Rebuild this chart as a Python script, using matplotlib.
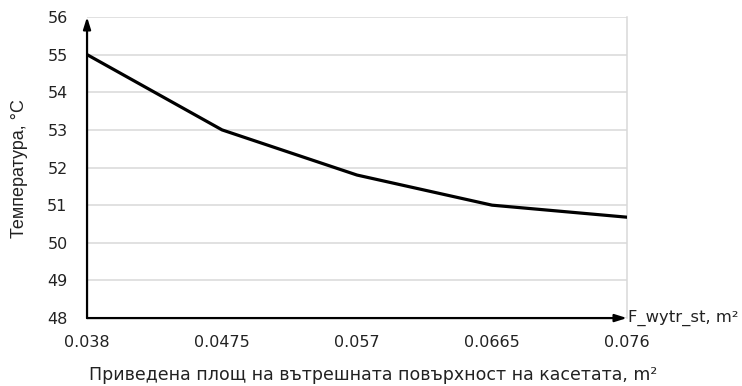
import matplotlib

matplotlib.use("Agg")
import matplotlib.pyplot as plt

# площ и температура
area = [0.038, 0.0475, 0.057, 0.0665, 0.076]
temperature = [55.0, 53.0, 51.8, 51.0, 50.68]
y_ticks = [48, 49, 50, 51, 52, 53, 54, 55, 56]

plt.rcParams["font.family"] = ["DejaVu Sans"]

fig = plt.figure(figsize=(7.42, 3.86), dpi=100)
ax = fig.add_axes([0.1173, 0.176, 0.845 - 0.1173, 0.956 - 0.176])

ax.plot(area, temperature, color="black", lw=2.3, solid_capstyle="round", zorder=3)

ax.set_xlim(area[0], area[-1])
ax.set_ylim(y_ticks[0], y_ticks[-1])
ax.set_xticks(area)
ax.set_xticklabels([f"{v:g}" for v in area])
ax.set_yticks(y_ticks)

ax.grid(axis="y", color="#d9d9d9", lw=1.1)
ax.set_axisbelow(True)
ax.tick_params(length=0, labelsize=11.5, colors="#222222")
ax.tick_params(axis="x", pad=12)
ax.tick_params(axis="y", pad=14)

for side in ["left", "bottom", "top"]:
    ax.spines[side].set_visible(False)
ax.spines["right"].set_color("#d9d9d9")
ax.spines["right"].set_linewidth(1.1)

# оси със стрелки
arrow = dict(arrowstyle="-|>,head_length=0.7,head_width=0.22", color="black", lw=1.6,
             shrinkA=0, shrinkB=0)
ax.annotate("", xy=(0, 1.0), xytext=(0, 0), xycoords="axes fraction",
            arrowprops=arrow, annotation_clip=False, zorder=4)
ax.annotate("", xy=(1.0, 0), xytext=(0, 0), xycoords="axes fraction",
            arrowprops=arrow, annotation_clip=False, zorder=4)
ax.text(1.002, 0.0, "F_wytr_st, m²", transform=ax.transAxes, ha="left",
        va="center", fontsize=11.8, color="#222222")

ax.set_xlabel("Приведена площ на вътрешната повърхност на касетата, m²",
              fontsize=12.5, color="#222222")
ax.xaxis.set_label_coords(0.53, -0.19)
ax.set_ylabel("Температура, °C", fontsize=13, color="#222222",
              family=["Liberation Sans", "DejaVu Sans"])
ax.yaxis.set_label_coords(-0.125, 0.498)
ax.yaxis.label.set_va("center")
ax.xaxis.label.set_va("center")

fig.savefig("out.png", dpi=100)
